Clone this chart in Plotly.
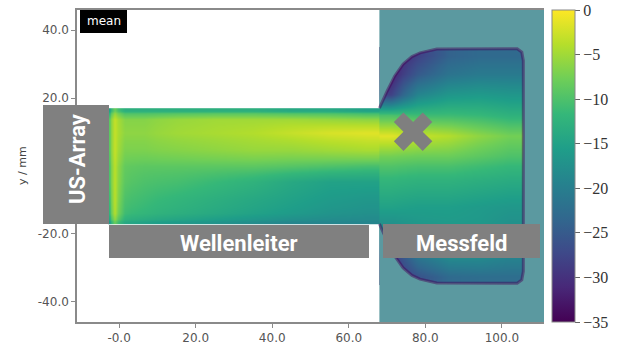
import plotly.graph_objects as go

# ---------------- data ----------------
# Waveguide (Wellenleiter) mean field, dB. rows: bottom -> top
wg_x_edges = [-2.9, -2.2, -0.4, 3, 10, 20, 30, 40, 50, 60, 69]
wg_y_edges = [-17, -15.6, -12, -7, -2, 2, 7.5, 12, 15.6, 17]
wg_db = [
    [-16, -8, -14, -15, -16, -17, -18, -19, -19, -19],
    [-12, -4, -11, -12, -13, -14, -15, -16, -17, -17.5],
    [-11, -3.5, -10, -11, -12, -13, -14, -15, -16, -16.5],
    [-10, -3.5, -9, -10, -10.5, -11.5, -12.5, -14, -15, -15],
    [-10, -3.5, -8.5, -9, -9, -9, -9, -9.5, -10, -10.5],
    [-9, -3, -7, -7, -6.5, -6, -5.5, -5.5, -5, -4.5],
    [-9, -3, -6, -6, -5, -4.5, -4, -3, -2, -1.5],
    [-9, -3, -6.5, -6.5, -5.5, -5, -5, -5, -5.5, -6],
    [-15, -8, -13, -13, -13, -13, -13, -14, -14, -15],
]

# Measurement field (Messfeld) mean field, dB. rows: bottom -> top
mf_x_edges = [68, 74, 82, 90, 98, 106]
mf_y_edges = [-35, -30, -24, -16, -8, 0, 6, 12, 18, 24, 30, 35]
mf_db = [
    [-31, -26, -23, -22.5, -22.5],
    [-30, -21.5, -18.5, -18.5, -19.5],
    [-19, -17, -16.5, -16.5, -18],
    [-15, -15.5, -15.5, -16, -16.5],
    [-12, -12.5, -12.5, -13, -13.5],
    [-7.5, -8, -8, -9, -10],
    [-1.5, -3, -4, -6, -7.5],
    [-10, -11, -11, -11.5, -12.5],
    [-28, -19, -16.5, -16, -16.5],
    [-32, -25, -21.5, -20.5, -20.5],
    [-33, -28, -24, -23, -23],
]

# Outline of the measured horn region (top-left -> right -> bottom-left)
horn_x = [68, 69, 70, 72, 74.2, 76.5, 78.6, 83, 104, 105.2, 105.6,
          105.6, 105.2, 104, 83, 78.6, 76.5, 74.2, 72, 70, 69, 68]
horn_y = [17, 19.5, 22, 26.5, 30, 32.2, 33.3, 34.4, 34.5, 33.5, 31,
          -31, -33.5, -34.5, -34.4, -33.3, -32.2, -30, -26.5, -22, -19.5, -17]
messfeld_x0 = 68

# Marker position (cross)
cross_x = [76.8]
cross_y = [10.1]

# Axes
x_range = [-11, 111]
y_range = [-45.9, 45.9]
x_tickvals = [0, 20, 40, 60, 80, 100]
x_ticktext = ["-0.0", "20.0", "40.0", "60.0", "80.0", "100.0"]
y_tickvals = [-40, -20, 20, 40]
y_ticktext = ["-40.0", "-20.0", "20.0", "40.0"]
cb_tickvals = [0, -5, -10, -15, -20, -25, -30, -35]
cb_ticktext = ["0", "\u22125", "\u221210", "\u221215", "\u221220", "\u221225", "\u221230", "\u221235"]
z_min, z_max = -35, 0

# ---------------- figure ----------------
fig = go.Figure()
fig.add_trace(go.Heatmap(x=wg_x_edges, y=wg_y_edges, z=wg_db, coloraxis="coloraxis",
                         zsmooth="best", hoverinfo="skip"))
fig.add_trace(go.Heatmap(x=mf_x_edges, y=mf_y_edges, z=mf_db, coloraxis="coloraxis",
                         zsmooth="best", hoverinfo="skip"))
fig.add_trace(go.Scatter(x=cross_x, y=cross_y, mode="markers", hoverinfo="skip",
                         marker=dict(symbol="x", size=34, color="#7f7f7f",
                                     line=dict(width=0)),
                         showlegend=False))

# teal mask around the horn: one simple C-shaped polygon
pts = list(zip(horn_x, horn_y)) + [
    (messfeld_x0, y_range[0]), (x_range[1], y_range[0]),
    (x_range[1], y_range[1]), (messfeld_x0, y_range[1])]
mask_path = "M" + " L".join(f"{a},{b}" for a, b in pts) + " Z"
open_outline = "M" + " L".join(f"{a},{b}" for a, b in zip(horn_x, horn_y))

shapes = [
    dict(type="path", path=mask_path, xref="x", yref="y", fillcolor="#5b99a0",
         line=dict(width=0), layer="above"),
    dict(type="path", path=open_outline, xref="x", yref="y",
         line=dict(color="rgba(68,1,84,0.45)", width=3), layer="above"),
]

# label boxes (paper coords)
W, H, L, B = 467, 312, 77, 22
def px_x(p):
    return (p - L) / W
def px_y(p):
    return (344 - B - p) / H

boxes = [
    (43, 109, 105, 224, "#808080"),   # US-Array
    (109, 369, 225, 258, "#808080"),  # Wellenleiter
    (383, 540, 224, 258, "#808080"),  # Messfeld
    (80, 127, 10, 33, "#000000"),     # mean
]
for x0, x1, y0, y1, c in boxes:
    shapes.append(dict(type="rect", xref="paper", yref="paper",
                       x0=px_x(x0), x1=px_x(x1), y0=px_y(y1), y1=px_y(y0),
                       fillcolor=c, line=dict(width=0), layer="above"))

annotations = [
    dict(text="<b>US-Array</b>", x=px_x(77), y=px_y(159), textangle=-90),
    dict(text="<b>Wellenleiter</b>", x=px_x(238.5), y=px_y(243.5)),
    dict(text="<b>Messfeld</b>", x=px_x(461.5), y=px_y(243)),
]
for a in annotations:
    a.update(xref="paper", yref="paper", showarrow=False, xanchor="center", yanchor="middle",
             font=dict(family="Roboto", size=22, color="white"))
annotations.append(dict(text="mean", x=px_x(103.5), y=px_y(21.5), xref="paper", yref="paper",
                        showarrow=False, xanchor="center", yanchor="middle",
                        font=dict(family="DejaVu Sans", size=12, color="white")))
annotations.append(dict(text="y / mm", x=px_x(22), y=0.5, xref="paper", yref="paper",
                        showarrow=False, textangle=-90, xanchor="center", yanchor="middle",
                        font=dict(family="DejaVu Sans", size=11, color="#444")))

axis_common = dict(showgrid=False, zeroline=False, showline=True, linecolor="#8a8a8a",
                   linewidth=1.5, ticks="outside", ticklen=4, tickcolor="#8a8a8a",
                   tickfont=dict(family="DejaVu Sans", size=12, color="#555"))

fig.update_layout(
    width=620, height=344,
    margin=dict(l=L, r=620 - L - W, t=10, b=B, autoexpand=False),
    paper_bgcolor="white", plot_bgcolor="white",
    showlegend=False,
    xaxis=dict(range=x_range, tickvals=x_tickvals, ticktext=x_ticktext, mirror=True, **axis_common),
    yaxis=dict(range=y_range, tickvals=y_tickvals, ticktext=y_ticktext, **axis_common),
    coloraxis=dict(colorscale="Viridis", cmin=z_min, cmax=z_max,
                   colorbar=dict(x=(552 - L) / W, xanchor="left", y=0.5, yanchor="middle",
                                 len=1, lenmode="fraction", thickness=23, thicknessmode="pixels",
                                 xpad=0, ypad=0, outlinewidth=1, outlinecolor="#888",
                                 ticks="outside", ticklen=5, tickcolor="#666",
                                 tickvals=cb_tickvals, ticktext=cb_ticktext,
                                 tickfont=dict(family="Liberation Serif", size=16, color="#333"))),
    shapes=shapes,
    annotations=annotations,
)

fig.write_html("out.html", config={"displayModeBar": False},
               post_script="document.body.style.margin='0';document.body.style.overflow='hidden';")
